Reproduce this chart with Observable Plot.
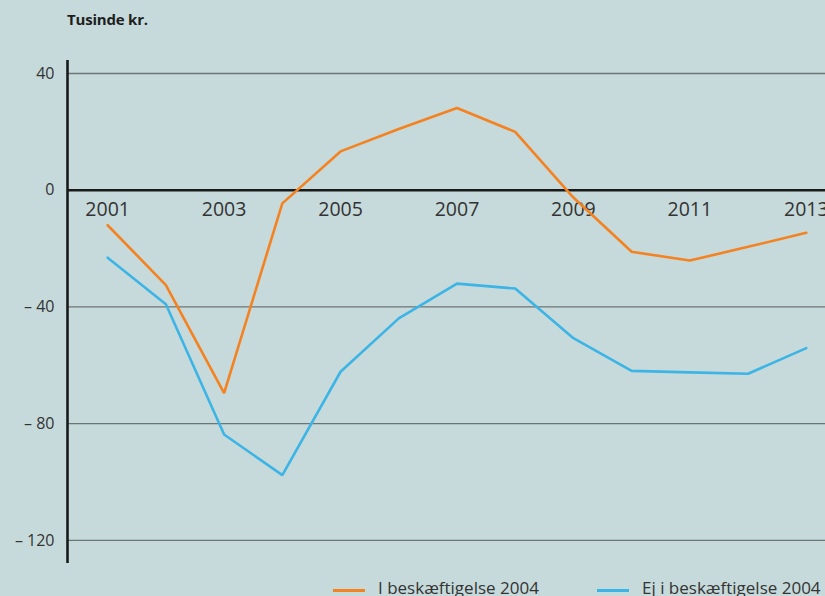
<!DOCTYPE html>
<html>
<head>
<meta charset="utf-8">
<script src="https://cdn.jsdelivr.net/npm/d3@7"></script>
<script src="https://cdn.jsdelivr.net/npm/@observablehq/plot@0.6"></script>
<style>
  body { margin: 0; background: #c6dadb; font-family: "Open Sans", sans-serif; }
  #wrap { position: relative; width: 825px; height: 596px; overflow: hidden; background: #c6dadb; }
  #title { position: absolute; left: 67px; top: 9px; font-size: 15px; font-weight: 700; color: #1e1e1e; letter-spacing: -0.2px; }
  #legend { position: absolute; top: 576px; left: 0; width: 825px; height: 24px; font-size: 17px; color: #333; }
  .item { position: absolute; top: 0; white-space: nowrap; }
  .sw { display: inline-block; width: 32px; height: 3px; vertical-align: middle; margin-right: 13px; position: relative; top: 1px; }
  #plot { position: absolute; left: 0; top: 0; }
</style>
</head>
<body>
<div id="wrap">
  <div id="plot"></div>
  <div id="title">Tusinde kr.</div>
  <div id="legend"></div>
</div>
<script>
const years = [2001, 2002, 2003, 2004, 2005, 2006, 2007, 2008, 2009, 2010, 2011, 2012, 2013];
const iBeskaeftigelse = [-12, -32.5, -69.5, -4.5, 13.3, 21, 28.2, 20, -2.5, -21.1, -24.1, -19.4, -14.6];
const ejBeskaeftigelse = [-23.1, -39.1, -83.7, -97.6, -62.2, -43.9, -32, -33.7, -50.7, -61.9, -62.4, -62.9, -54.1];
const seriesNames = ["I beskæftigelse 2004", "Ej i beskæftigelse 2004"];
const seriesColors = ["#f58220", "#3db4e6"];
const yTicks = [40, 0, -40, -80, -120];
const xTickYears = [2001, 2003, 2005, 2007, 2009, 2011, 2013];

const data = [];
years.forEach((yr, i) => {
  data.push({year: yr, value: iBeskaeftigelse[i], series: seriesNames[0]});
  data.push({year: yr, value: ejBeskaeftigelse[i], series: seriesNames[1]});
});

const xDomain = [2000.31, 2013.33];
const yDomain = [-127.9, 44.45];

const chart = Plot.plot({
  width: 825,
  height: 596,
  marginLeft: 67,
  marginRight: 0,
  marginTop: 60,
  marginBottom: 33,
  style: { background: "transparent", fontFamily: "Open Sans, sans-serif" },
  x: { domain: xDomain, axis: null },
  y: { domain: yDomain, ticks: yTicks, tickSize: 0, tickPadding: 13,
       tickFormat: d => d < 0 ? "\u2013 " + Math.abs(d) : String(d), label: null },
  color: { domain: seriesNames, range: seriesColors },
  marks: [
    Plot.ruleY(yTicks.filter(d => d !== 0), { stroke: "#6e7576", strokeWidth: 1.3 }),
    Plot.ruleY([0], { stroke: "#1a1a1a", strokeWidth: 2.6 }),
    Plot.ruleX([xDomain[0]], { stroke: "#1a1a1a", strokeWidth: 2.6 }),
    Plot.axisY({ ticks: yTicks, tickSize: 0, tickPadding: 13, fontSize: 16, fill: "#333",
                 tickFormat: d => d < 0 ? "\u2013 " + Math.abs(d) : String(d), label: null }),
    Plot.text(xTickYears, { x: d => d, y: 0, text: d => String(d), dy: 20, fontSize: 19.5, fill: "#333" }),
    Plot.line(data, { x: "year", y: "value", stroke: "series", z: "series", strokeWidth: 2.6, strokeLinejoin: "miter" })
  ]
});
document.getElementById("plot").appendChild(chart);

const legend = document.getElementById("legend");
const lefts = [333, 597];
seriesNames.forEach((name, i) => {
  const it = document.createElement("div");
  it.className = "item";
  it.style.left = lefts[i] + "px";
  it.innerHTML = `<span class="sw" style="background:${seriesColors[i]}"></span>${name}`;
  legend.appendChild(it);
});
</script>
</body>
</html>
